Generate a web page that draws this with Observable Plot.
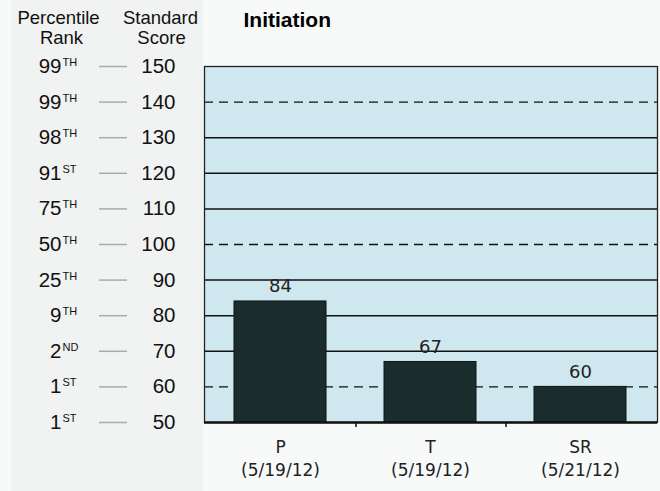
<!DOCTYPE html>
<html>
<head>
<meta charset="utf-8">
<script src="https://cdn.jsdelivr.net/npm/d3@7"></script>
<script src="https://cdn.jsdelivr.net/npm/@observablehq/plot@0.6"></script>
<style>
  html, body { margin: 0; padding: 0; }
  body { background: #f8fafa; }
  #chart {
    width: 660px; height: 491px;
    background: linear-gradient(to right, #f8fafa 11px, #f1f2f2 11px, #f1f2f2 203px, #f8fafa 203px);
  }
  #chart svg { background: transparent; display: block; }
</style>
</head>
<body>
<div id="chart"></div>
<script>
const categories = ["P", "T", "SR"];
const dates = ["(5/19/12)", "(5/19/12)", "(5/21/12)"];
const values = [84, 67, 60];

const scoreTicks = [150, 140, 130, 120, 110, 100, 90, 80, 70, 60, 50];
const percentileNums = ["99", "99", "98", "91", "75", "50", "25", "9", "2", "1", "1"];
const percentileSups = ["TH", "TH", "TH", "ST", "TH", "TH", "TH", "TH", "ND", "ST", "ST"];

const solidGrid = [130, 120, 110, 90, 80, 70];
const dashedGrid = [140, 100, 60];

const title = "Initiation";
const headerLeft = ["Percentile", "Rank"];
const headerRight = ["Standard", "Score"];

const bars = categories.map((c, i) => ({cat: c, date: dates[i], value: values[i]}));
const leftRows = scoreTicks.map((s, i) => ({score: s, num: percentileNums[i], sup: percentileSups[i]}));

const sans = "Liberation Sans, Arial, sans-serif";
const pix = "DejaVu Sans, Verdana, sans-serif";

const hdr = {frameAnchor: "top-left", textAnchor: "middle", lineAnchor: "middle", fontFamily: sans, fontSize: 18.5, fill: "#111"};

const chart = Plot.plot({
  width: 660,
  height: 491,
  marginLeft: 204,
  marginRight: 3,
  marginTop: 66,
  marginBottom: 69,
  style: {background: "transparent", color: "#111"},
  x: {type: "band", domain: categories, paddingInner: 0.385, paddingOuter: 0.2, axis: null, label: null},
  y: {domain: [50, 150], axis: null},
  marks: [
    Plot.frame({fill: "#cfe8ef", stroke: null}),
    Plot.ruleY(solidGrid, {stroke: "#111", strokeWidth: 1.5}),
    Plot.ruleY(dashedGrid, {stroke: "#111", strokeWidth: 1.3, strokeDasharray: "9,6"}),
    Plot.barY(bars, {x: "cat", y1: 50, y2: "value", fill: "#1b2c2c", stroke: "#0b1515", strokeWidth: 1}),
    Plot.frame({stroke: "#222", strokeWidth: 1.3}),
    Plot.ruleY([50], {stroke: "#111", strokeWidth: 2.5}),
    Plot.ruleX(categories.slice(0, 2), {x: d => d, y1: 50, y2: 48.6, dx: 75.5, stroke: "#111", strokeWidth: 1.5}),
    Plot.text(bars, {x: "cat", y: "value", text: d => String(d.value), dy: -15, fontFamily: pix, fontSize: 18, fill: "#222"}),
    Plot.axisX({tickSize: 0, tickPadding: 18, fontFamily: pix, fontSize: 17, fill: "#222", label: null}),
    Plot.axisX({tickSize: 0, tickPadding: 41, fontFamily: pix, fontSize: 17, fill: "#222", label: null,
      tickFormat: d => dates[categories.indexOf(d)]}),
    // left panel: standard scores, dashes, percentile ranks
    Plot.text(leftRows, {y: "score", text: d => String(d.score), frameAnchor: "left", dx: -29, textAnchor: "end", fontFamily: sans, fontSize: 20.5, fill: "#111"}),
    Plot.tickY(leftRows, {y: "score", dx: -105, insetRight: 425, stroke: "#a9acae", strokeWidth: 1.5}),
    Plot.text(leftRows, {y: "score", text: "num", frameAnchor: "left", dx: -143, textAnchor: "end", fontFamily: sans, fontSize: 20.5, fill: "#111"}),
    Plot.text(leftRows, {y: "score", text: "sup", frameAnchor: "left", dx: -142, dy: -4, textAnchor: "start", fontFamily: sans, fontSize: 11, fill: "#111"}),
    // headers & title
    Plot.text([headerLeft[0]], {...hdr, dx: -146, dy: -48}),
    Plot.text([headerLeft[1]], {...hdr, dx: -143, dy: -28}),
    Plot.text([headerRight[0]], {...hdr, dx: -44, dy: -48}),
    Plot.text([headerRight[1]], {...hdr, dx: -43, dy: -28}),
    Plot.text([title], {frameAnchor: "top-left", dx: 39, dy: -46, textAnchor: "start", lineAnchor: "middle", fontFamily: sans, fontWeight: "bold", fontSize: 21, fill: "#000"})
  ]
});
document.getElementById("chart").append(chart);
</script>
</body>
</html>
